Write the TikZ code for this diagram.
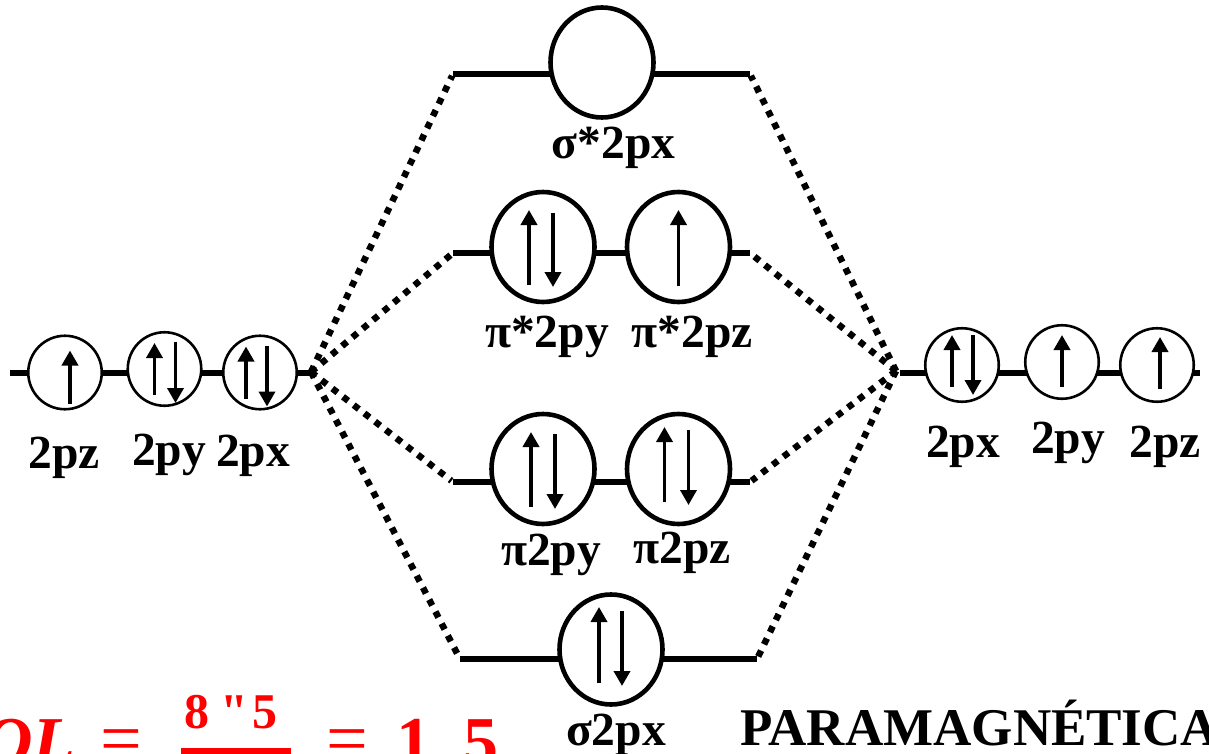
\documentclass[tikz,border=0pt]{standalone}
\usepackage{fontspec}
\setmainfont{Liberation Serif}
\newfontfamily\straightfont{Liberation Serif}
\usetikzlibrary{arrows.meta,shapes.geometric}
\definecolor{redox}{HTML}{FF0000}
\tikzset{
  orb/.style={draw=black, fill=white, ellipse, line width=4.6pt, minimum width=103pt, minimum height=110pt, inner sep=0pt},
  sorb/.style={draw=black, fill=white, circle, line width=2.6pt, minimum size=73.5pt, inner sep=0pt},
  lev/.style={draw=black, line width=6.4pt},
  link/.style={draw=black, line width=6.5pt, dash pattern=on 6.5pt off 7pt},
  spin/.style={-{Triangle[length=15pt,width=16pt]}, line width=3.6pt},
  lab/.style={font=\fontsize{47.5}{50}\bfseries\selectfont, inner sep=0pt, anchor=base},
  ratio/.style={font=\fontsize{70}{74}\bfseries\selectfont, text=redox, inner sep=0pt, anchor=base},
  eqsign/.style={ratio, font=\fontsize{74}{78}\selectfont},
}
\begin{document}
\begin{tikzpicture}[x=1pt,y=-1pt]
  \useasboundingbox (0,0) rectangle (1209,754);
  \clip (0,0) rectangle (1209,754);
  % level ends
  \coordinate (lc) at (311,372);
  \coordinate (rc) at (896,371);
  \coordinate (lstart) at (10,373);
  \coordinate (lstop) at (313,373);
  \coordinate (rstart) at (900,373);
  \coordinate (rstop) at (1200,373);
  \coordinate (a1) at (453,74);  \coordinate (b1) at (750,74);
  \coordinate (a2) at (453,253); \coordinate (b2) at (750,253);
  \coordinate (a3) at (453,482); \coordinate (b3) at (750,482);
  \coordinate (a4) at (460,659); \coordinate (b4) at (757,659);
  % levels
  \draw[lev] (lstart) -- (lstop);
  \draw[lev] (rstart) -- (rstop);
  \draw[lev] (a1) -- (b1);
  \draw[lev] (a2) -- (b2);
  \draw[lev] (a3) -- (b3);
  \draw[lev] (a4) -- (b4);
  % dotted links
  \foreach \n in {1,2,3,4} {
    \draw[link, shorten >=2pt] (lc) -- (a\n);
    \draw[link, shorten >=2pt] (rc) -- (b\n);
  }
  % orbitals
  \node[orb] (ss) at (602,62.5) {};
  \node[orb] (psy) at (543,247) {};
  \node[orb] (psz) at (678.5,247) {};
  \node[orb] (py) at (543,469) {};
  \node[orb] (pz) at (678.5,469) {};
  \node[orb] (sg) at (611,649.5) {};
  \node[sorb] (lz) at (65,372.5) {};
  \node[sorb] (ly) at (164.5,369) {};
  \node[sorb] (lx) at (260,372.5) {};
  \node[sorb] (rx) at (962,365) {};
  \node[sorb] (ry) at (1062,362) {};
  \node[sorb] (rz) at (1157,365) {};
  % spins
  \draw[spin] ([xshift=-14pt,yshift=-38pt]psy.center) -- ++(0,-75);
  \draw[spin] ([xshift=10pt,yshift=34pt]psy.center) -- ++(0,74);
  \draw[spin] ([yshift=-39pt]psz.center) -- ++(0,-76);
  \draw[spin] ([xshift=-12pt,yshift=-38pt]py.center) -- ++(0,-75);
  \draw[spin] ([xshift=12pt,yshift=35pt]py.center) -- ++(0,75);
  \draw[spin] ([xshift=-14pt,yshift=-33pt]pz.center) -- ++(0,-75);
  \draw[spin] ([xshift=10pt,yshift=39pt]pz.center) -- ++(0,75);
  \draw[spin] ([xshift=-12pt,yshift=-33.5pt]sg.center) -- ++(0,-76);
  \draw[spin] ([xshift=11pt,yshift=38.5pt]sg.center) -- ++(0,75);
  \draw[spin] ([xshift=5pt,yshift=-31pt]lz.center) -- ++(0,-53);
  \draw[spin] ([xshift=-10pt,yshift=-26pt]ly.center) -- ++(0,-52);
  \draw[spin] ([xshift=11pt,yshift=27pt]ly.center) -- ++(0,61);
  \draw[spin] ([xshift=-14pt,yshift=-26pt]lx.center) -- ++(0,-52);
  \draw[spin] ([xshift=7pt,yshift=27pt]lx.center) -- ++(0,61);
  \draw[spin] ([xshift=-10pt,yshift=-22pt]rx.center) -- ++(0,-52);
  \draw[spin] ([xshift=11pt,yshift=30pt]rx.center) -- ++(0,60);
  \draw[spin] ([yshift=-25pt]ry.center) -- ++(0,-52);
  \draw[spin] ([xshift=3pt,yshift=-24pt]rz.center) -- ++(0,-52);
  % labels
  \node[lab] (t1) at (613.5,159) {σ*2px};
  \node[lab] (t2) at (547,347) {π*2py};
  \node[lab] (t3) at (692,347) {π*2pz};
  \node[lab] (t4) at (551,565) {π2py};
  \node[lab] (t5) at (682,563) {π2pz};
  \node[lab] (t6) at (616,745) {σ2px};
  \node[lab] (t7) at (64,468) {2pz};
  \node[lab] (t8) at (169,465) {2py};
  \node[lab] (t9) at (253,466) {2px};
  \node[lab] (t10) at (963,457) {2px};
  \node[lab] (t11) at (1068,453) {2py};
  \node[lab] (t12) at (1165,457) {2pz};
  \node[lab, font=\fontsize{53}{56}\bfseries\selectfont, anchor=base west] (t13) at (740,745) {PARAMAGNÉTICA};
  % bond order
  \node[ratio, anchor=base west] (ol) at (-18,765) {\itshape OL};
  \node[eqsign] (eq1) at (121,763) {=};
  \node[ratio, font=\fontsize{50}{54}\bfseries\selectfont] (frac) at (231,728) {8\hspace{11pt}{\straightfont\bfseries "}\hspace{5pt}5};
  \coordinate (barl) at (181,754);
  \coordinate (barr) at (291,754);
  \draw[draw=redox, line width=12pt] (barl) -- (barr);
  \node[eqsign] (eq2) at (347,763) {=};
  \node[ratio, anchor=base west] (val) at (396,765) {1\hspace{32pt}5};
\end{tikzpicture}
\end{document}
